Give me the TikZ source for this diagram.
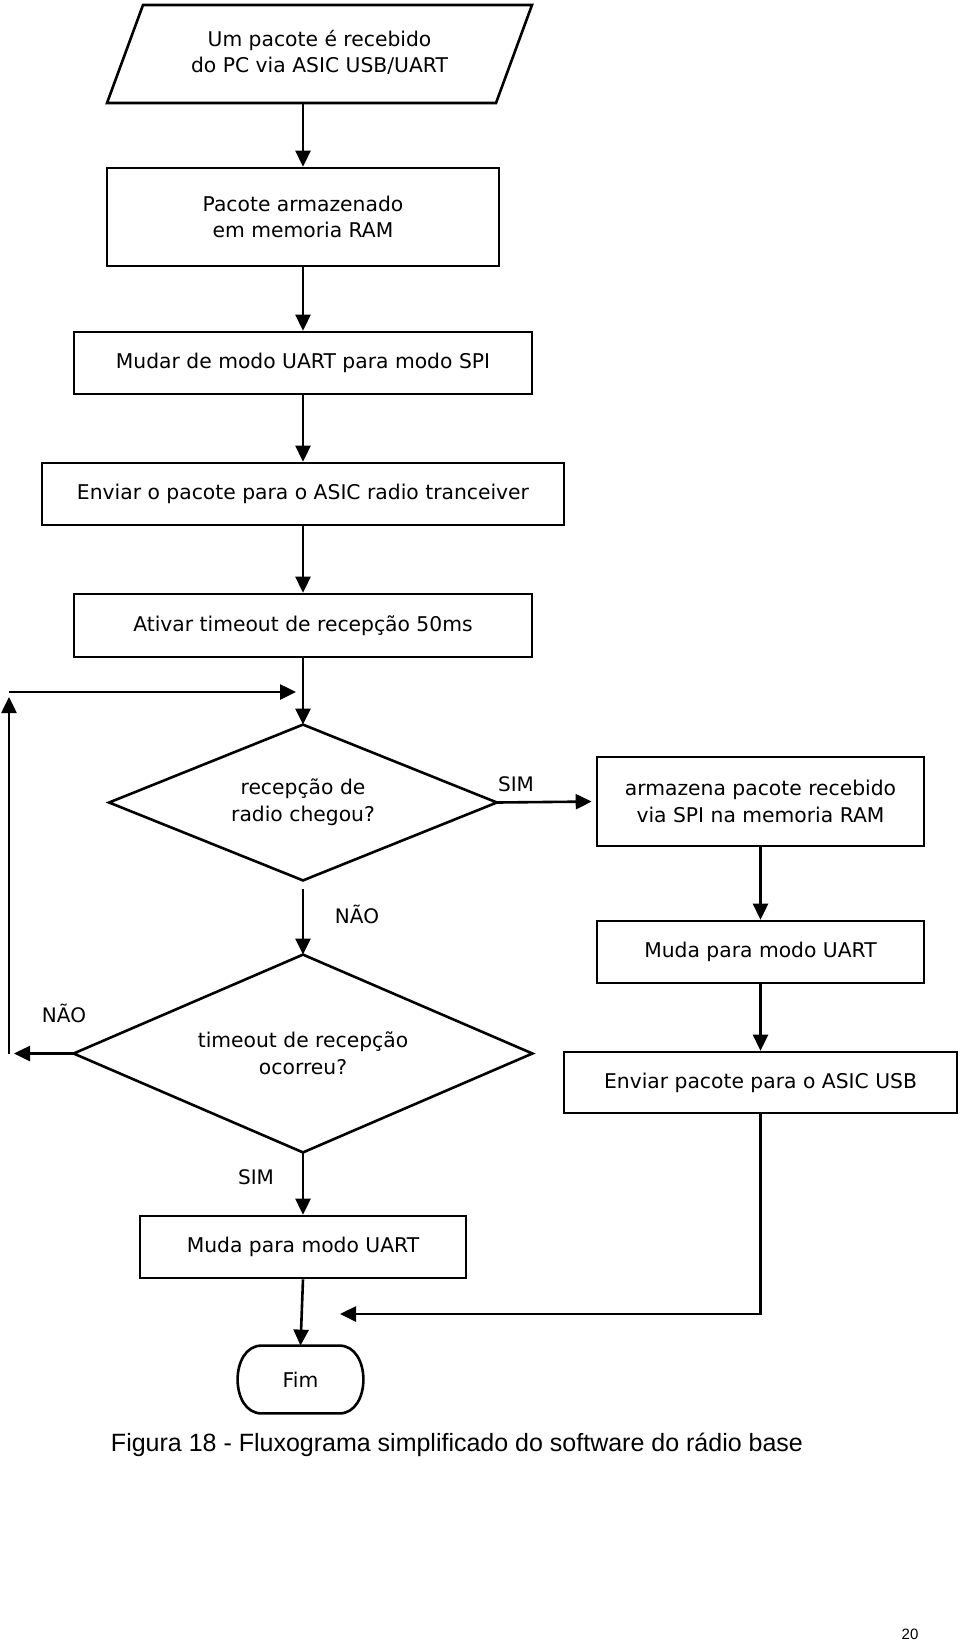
\documentclass[tikz,border=0pt]{standalone}
\usepackage{fontspec}
\usetikzlibrary{arrows.meta}
\newfontfamily\dvfont{DejaVu Sans}
\newfontfamily\lsfont{Liberation Sans}
\tikzset{
  txt/.style={rectangle, inner sep=0pt, align=center, font=\dvfont\fontsize{10.15}{13.3}\selectfont},
  pbox/.style={txt, draw, line width=1.3pt},
  ln/.style={line width=1.3pt, line join=miter},
  arr/.style={line width=1.3pt, -{Triangle[length=8pt,width=7.5pt]}},
  lbl/.style={font=\dvfont\fontsize{10}{12}\selectfont, inner sep=0pt}
}
\begin{document}
\begin{tikzpicture}[x=0.5pt,y=-0.5pt]
\useasboundingbox (0,0) rectangle (960,1645);
\fill[white] (0,0) rectangle (960,1645);

% left column
\node[txt, minimum width=195pt, minimum height=50.5pt] (inp) at (319.5,52.5) {Um pacote é recebido\\do PC via ASIC USB/UART};
\draw[ln] (143,5) -- (532,5) -- (496,103) -- (107,103) -- cycle;
\node[pbox, minimum width=196pt, minimum height=49pt] (b2) at (303,217) {Pacote armazenado\\em memoria RAM};
\node[pbox, minimum width=229pt, minimum height=31pt] (b3) at (303,363) {Mudar de modo UART para modo SPI};
\node[pbox, minimum width=261pt, minimum height=31pt] (b4) at (303,494) {Enviar o pacote para o ASIC radio tranceiver};
\node[pbox, minimum width=229pt, minimum height=31.5pt] (b5) at (303,625.5) {Ativar timeout de recepção 50ms};
\node[txt, minimum width=193.5pt, minimum height=77.5pt] (d1) at (303,802.5) {recepção de\\radio chegou?};
\draw[ln] (d1.north) -- (d1.east) -- (d1.south) -- (d1.west) -- cycle;
\node[txt, minimum width=229pt, minimum height=98.5pt] (d2) at (303,1053.5) {timeout de recepção\\ocorreu?};
\draw[ln] (d2.north) -- (d2.east) -- (d2.south) -- (d2.west) -- cycle;
\node[pbox, minimum width=163pt, minimum height=31pt] (ml) at (303,1247) {Muda para modo UART};
\node[txt, minimum width=62.5pt, minimum height=33.5pt] (fim) at (300.5,1379.5) {Fim};
\draw[ln] ([xshift=12pt]fim.north west) -- ([xshift=-12pt]fim.north east)
  .. controls ([xshift=4pt]fim.north east) and ([xshift=4pt]fim.south east) .. ([xshift=-12pt]fim.south east)
  -- ([xshift=12pt]fim.south west)
  .. controls ([xshift=-4pt]fim.south west) and ([xshift=-4pt]fim.north west) .. cycle;

% right column
\node[pbox, minimum width=163.5pt, minimum height=44.5pt] (ar) at (760.5,801.5) {armazena pacote recebido\\via SPI na memoria RAM};
\node[pbox, minimum width=163.5pt, minimum height=31pt] (mr) at (760.5,952) {Muda para modo UART};
\node[pbox, minimum width=196.5pt, minimum height=30.5pt] (eu) at (760.5,1082.5) {Enviar pacote para o ASIC USB};

% labels
\node[lbl] (lsim1) at (516,784) {SIM};
\node[lbl] (lnao1) at (357,914) {NÃO};
\node[lbl] (lnao2) at (64,1013) {NÃO};
\node[lbl] (lsim2) at (256,1177) {SIM};

% connectors
\draw[arr] (inp.south -| b2.north) -- (b2.north);
\draw[arr] (b2) -- (b3);
\draw[arr] (b3) -- (b4);
\draw[arr] (b4) -- (b5);
\draw[arr] (b5.south) -- (d1.north);
\draw[arr, shorten <=4.5pt] (d1.south) -- (d2.north);
\draw[arr] (d2.south) -- (ml.north);
\draw[arr] (ml.south) -- (fim.north);
\draw[arr, shorten >=2pt] (d1.east) -- (ar.west);
\draw[arr] (ar) -- (mr);
\draw[arr] (mr) -- (eu);
\coordinate (ret) at (340,1314);
\draw[arr] (eu.south) |- (ret);
\coordinate (lft) at (14,1053.5);
\draw[arr] (d2.west) -- (lft);
\coordinate (lb) at (9,1053.5);
\coordinate (lt) at (9,697);
\draw[arr] (lb) -- (lt);
\coordinate (tl) at (9,692);
\coordinate (tr) at (296,692);
\draw[arr] (tl) -- (tr);

% caption and page number
\node[inner sep=0pt, font=\lsfont\fontsize{12.5}{14}\selectfont] (cap) at (457,1445) {Figura 18 - Fluxograma simplificado do software do rádio base};
\node[inner sep=0pt, font=\lsfont\fontsize{7.5}{9}\selectfont] (pg) at (910,1634) {20};
\end{tikzpicture}
\end{document}
